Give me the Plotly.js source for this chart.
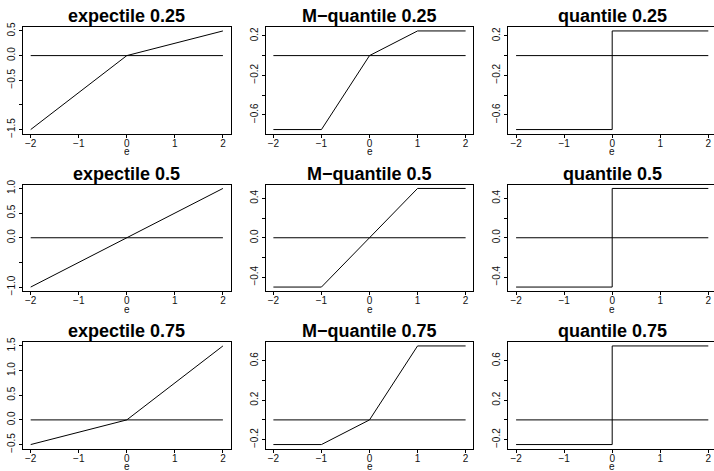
<!DOCTYPE html>
<html>
<head>
<meta charset="utf-8">
<script src="https://cdn.plot.ly/plotly-3.0.1.min.js"></script>
<style>
html, body { margin: 0; padding: 0; overflow: hidden; background: #fff; }
#plot { width: 730px; height: 480px; }
</style>
</head>
<body>
<div id="plot"></div>
<script>
// ---- data ----
const xExp = [-2, 0, 2];
const expectile025 = [-1.5, 0, 0.5];
const expectile05 = [-1, 0, 1];
const expectile075 = [-0.5, 0, 1.5];

const xMq = [-2, -1, 0, 1, 2];
const mquantile025 = [-0.75, -0.75, 0, 0.25, 0.25];
const mquantile05 = [-0.5, -0.5, 0, 0.5, 0.5];
const mquantile075 = [-0.25, -0.25, 0, 0.75, 0.75];

const xQ = [-2, 0, 0, 2];
const quantile025 = [-0.75, -0.75, 0.25, 0.25];
const quantile05 = [-0.5, -0.5, 0.5, 0.5];
const quantile075 = [-0.25, -0.25, 0.75, 0.75];

const xZero = [-2, 2];
const yZero = [0, 0];

const xTickVals = [-2, -1, 0, 1, 2];
const xTickText = ["\u22122", "\u22121", "0", "1", "2"];

const titles = [
  "expectile 0.25", "M\u2212quantile 0.25", "quantile 0.25",
  "expectile 0.5", "M\u2212quantile 0.5", "quantile 0.5",
  "expectile 0.75", "M\u2212quantile 0.75", "quantile 0.75"
];

const yTicks025 = [-1.5, -1, -0.5, 0, 0.5];
const yText025 = ["\u22121.5", "", "\u22120.5", "0.0", "0.5"];
const yTicksMq025 = [-0.6, -0.4, -0.2, 0, 0.2];
const yTextMq025 = ["\u22120.6", "", "\u22120.2", "", "0.2"];
const yTicks05 = [-1, -0.5, 0, 0.5, 1];
const yText05 = ["\u22121.0", "", "0.0", "0.5", "1.0"];
const yTicksMq05 = [-0.4, -0.2, 0, 0.2, 0.4];
const yTextMq05 = ["\u22120.4", "", "0.0", "", "0.4"];
const yTicks075 = [-0.5, 0, 0.5, 1, 1.5];
const yText075 = ["\u22120.5", "0.0", "0.5", "1.0", "1.5"];
const yTicksMq075 = [-0.2, 0, 0.2, 0.4, 0.6];
const yTextMq075 = ["\u22120.2", "", "0.2", "", "0.6"];

// ---- panels ----
const panels = [
  {x: xExp, y: expectile025, tv: yTicks025, tt: yText025},
  {x: xMq, y: mquantile025, tv: yTicksMq025, tt: yTextMq025},
  {x: xQ, y: quantile025, tv: yTicksMq025, tt: yTextMq025},
  {x: xExp, y: expectile05, tv: yTicks05, tt: yText05},
  {x: xMq, y: mquantile05, tv: yTicksMq05, tt: yTextMq05},
  {x: xQ, y: quantile05, tv: yTicksMq05, tt: yTextMq05},
  {x: xExp, y: expectile075, tv: yTicks075, tt: yText075},
  {x: xMq, y: mquantile075, tv: yTicksMq075, tt: yTextMq075},
  {x: xQ, y: quantile075, tv: yTicksMq075, tt: yTextMq075}
];

const W = 730, H = 480;
const colStep = 242.7, rowStep = 157.5;
const boxL = 23, boxW = 207.6, boxT = 27, boxH = 106.5;

const tickFont = {family: "Liberation Sans, Arial, sans-serif", size: 10, color: "#111"};
const titleFont = {family: "Liberation Sans, Arial, sans-serif", size: 18, color: "#000", weight: "bold"};

const traces = [];
const layout = {
  width: W, height: H,
  margin: {l: 0, r: 0, t: 0, b: 0},
  paper_bgcolor: "#fff", plot_bgcolor: "#fff",
  showlegend: false,
  annotations: []
};

function ext(lo, hi) { const d = (hi - lo) * 0.04; return [lo - d, hi + d]; }

panels.forEach((p, i) => {
  const r = Math.floor(i / 3), c = i % 3;
  const suf = i === 0 ? "" : String(i + 1);
  const xa = "x" + suf, ya = "y" + suf;
  const left = boxL + c * colStep, top = boxT + r * rowStep;
  traces.push({x: xZero, y: yZero, xaxis: xa, yaxis: ya, mode: "lines",
    line: {color: "#000", width: 1}, hoverinfo: "skip"});
  traces.push({x: p.x, y: p.y, xaxis: xa, yaxis: ya, mode: "lines",
    line: {color: "#000", width: 1}, hoverinfo: "skip"});
  const ymin = Math.min(...p.y), ymax = Math.max(...p.y);
  layout["xaxis" + suf] = {
    domain: [left / W, (left + boxW) / W],
    anchor: ya, range: ext(-2, 2),
    tickvals: xTickVals, ticktext: xTickText,
    ticks: "outside", ticklen: 3, tickwidth: 1, tickcolor: "#000",
    ticklabelstandoff: -3,
    showline: true, mirror: true, linecolor: "#000", linewidth: 1,
    showgrid: false, zeroline: false, tickfont: tickFont, fixedrange: true
  };
  layout["yaxis" + suf] = {
    domain: [1 - (top + boxH) / H, 1 - top / H],
    anchor: xa, range: ext(ymin, ymax),
    tickvals: p.tv, ticktext: p.tt, tickangle: -90,
    ticks: "outside", ticklen: 3, tickwidth: 1, tickcolor: "#000",
    showline: true, mirror: true, linecolor: "#000", linewidth: 1,
    showgrid: false, zeroline: false, tickfont: tickFont, fixedrange: true
  };
  const cx = (left + boxW / 2) / W;
  layout.annotations.push({
    text: titles[i], xref: "paper", yref: "paper",
    x: cx, y: 1 - (16 + r * rowStep) / H, xanchor: "center", yanchor: "middle",
    showarrow: false, font: titleFont
  });
  const eY = r === 2 ? 466 : 151 + r * rowStep;
  layout.annotations.push({
    text: "e", xref: "paper", yref: "paper",
    x: cx, y: 1 - eY / H, xanchor: "center", yanchor: "middle",
    height: 8, showarrow: false, font: tickFont
  });
});

Plotly.newPlot("plot", traces, layout, {staticPlot: true, displayModeBar: false});
</script>
</body>
</html>
